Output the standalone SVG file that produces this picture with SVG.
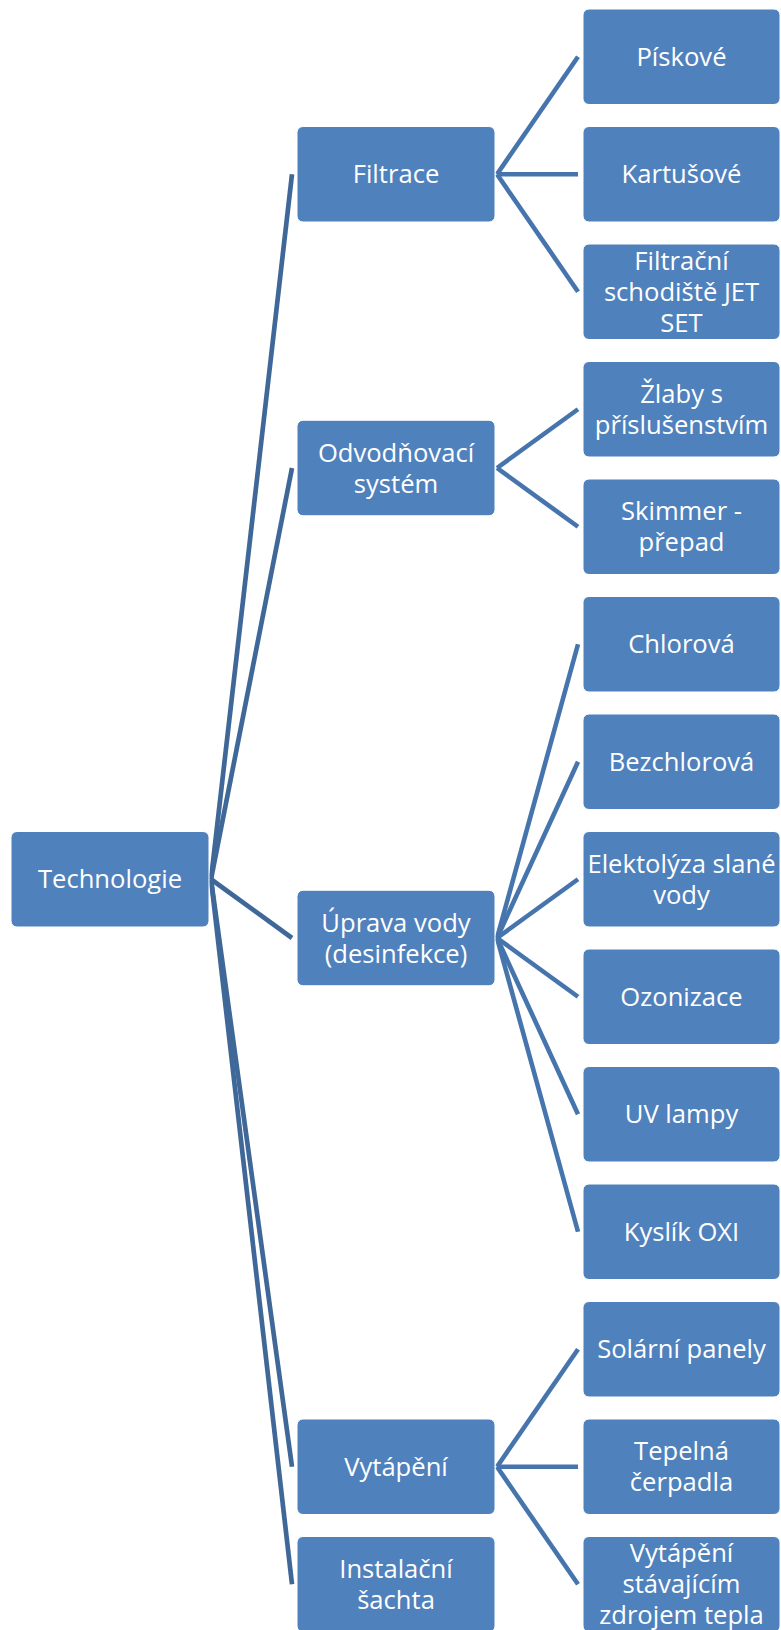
<svg xmlns="http://www.w3.org/2000/svg" width="781" height="1630" viewBox="0 0 781 1630">
<style>
.box{fill:#4F81BD;stroke:#ffffff;stroke-width:1}
.t{font-family:"Open Sans","Liberation Sans",sans-serif;font-size:25.6px;fill:#ffffff;text-anchor:middle}
.c1{stroke:#3F6898;stroke-width:4.7;fill:none}
.c2{stroke:#4674AC;stroke-width:4.6;fill:none}
</style>
<rect width="781" height="1630" fill="#ffffff"/>
<g id="connectors">
<line class="c1" x1="211" y1="879.25" x2="292" y2="174.25"/>
<line class="c1" x1="211" y1="879.25" x2="292" y2="468"/>
<line class="c1" x1="211" y1="879.25" x2="292" y2="938"/>
<line class="c1" x1="211" y1="879.25" x2="292" y2="1466.75"/>
<line class="c1" x1="211" y1="879.25" x2="292" y2="1584.25"/>
<line class="c2" x1="497" y1="174.25" x2="578" y2="56.75"/>
<line class="c2" x1="497" y1="174.25" x2="578" y2="174.25"/>
<line class="c2" x1="497" y1="174.25" x2="578" y2="291.75"/>
<line class="c2" x1="497" y1="468" x2="578" y2="409.25"/>
<line class="c2" x1="497" y1="468" x2="578" y2="526.75"/>
<line class="c2" x1="497" y1="938" x2="578" y2="644.25"/>
<line class="c2" x1="497" y1="938" x2="578" y2="761.75"/>
<line class="c2" x1="497" y1="938" x2="578" y2="879.25"/>
<line class="c2" x1="497" y1="938" x2="578" y2="996.75"/>
<line class="c2" x1="497" y1="938" x2="578" y2="1114.25"/>
<line class="c2" x1="497" y1="938" x2="578" y2="1231.75"/>
<line class="c2" x1="497" y1="1466.75" x2="578" y2="1349.25"/>
<line class="c2" x1="497" y1="1466.75" x2="578" y2="1466.75"/>
<line class="c2" x1="497" y1="1466.75" x2="578" y2="1584.25"/>
</g>
<g id="n-technologie"><rect class="box" x="11" y="831.5" width="198" height="95.5" rx="6"/><text class="t" x="110" y="888.25">Technologie</text></g>
<g id="n-filtrace"><rect class="box" x="297" y="126.5" width="198" height="95.5" rx="6"/><text class="t" x="396" y="183.25">Filtrace</text></g>
<g id="n-odvodnovaci"><rect class="box" x="297" y="420.25" width="198" height="95.5" rx="6"/><text class="t" x="396" y="461.5">Odvodňovací</text><text class="t" x="396" y="492.5">systém</text></g>
<g id="n-uprava"><rect class="box" x="297" y="890.25" width="198" height="95.5" rx="6"/><text class="t" x="396" y="931.5">Úprava vody</text><text class="t" x="396" y="962.5">(desinfekce)</text></g>
<g id="n-vytapeni"><rect class="box" x="297" y="1419" width="198" height="95.5" rx="6"/><text class="t" x="396" y="1475.75">Vytápění</text></g>
<g id="n-instalacni"><rect class="box" x="297" y="1536.5" width="198" height="95.5" rx="6"/><text class="t" x="396" y="1577.75">Instalační</text><text class="t" x="396" y="1608.75">šachta</text></g>
<g id="n-piskove"><rect class="box" x="583" y="9" width="197" height="95.5" rx="6"/><text class="t" x="681.5" y="65.75">Pískové</text></g>
<g id="n-kartusove"><rect class="box" x="583" y="126.5" width="197" height="95.5" rx="6"/><text class="t" x="681.5" y="183.25">Kartušové</text></g>
<g id="n-filtracni-schodiste"><rect class="box" x="583" y="244" width="197" height="95.5" rx="6"/><text class="t" x="681.5" y="269.75">Filtrační</text><text class="t" x="681.5" y="300.75">schodiště JET</text><text class="t" x="681.5" y="331.75">SET</text></g>
<g id="n-zlaby"><rect class="box" x="583" y="361.5" width="197" height="95.5" rx="6"/><text class="t" x="681.5" y="402.75">Žlaby s</text><text class="t" x="681.5" y="433.75">příslušenstvím</text></g>
<g id="n-skimmer"><rect class="box" x="583" y="479" width="197" height="95.5" rx="6"/><text class="t" x="681.5" y="520.25">Skimmer -</text><text class="t" x="681.5" y="551.25">přepad</text></g>
<g id="n-chlorova"><rect class="box" x="583" y="596.5" width="197" height="95.5" rx="6"/><text class="t" x="681.5" y="653.25">Chlorová</text></g>
<g id="n-bezchlorova"><rect class="box" x="583" y="714" width="197" height="95.5" rx="6"/><text class="t" x="681.5" y="770.75">Bezchlorová</text></g>
<g id="n-elektolyza"><rect class="box" x="583" y="831.5" width="197" height="95.5" rx="6"/><text class="t" x="681.5" y="872.75">Elektolýza slané</text><text class="t" x="681.5" y="903.75">vody</text></g>
<g id="n-ozonizace"><rect class="box" x="583" y="949" width="197" height="95.5" rx="6"/><text class="t" x="681.5" y="1005.75">Ozonizace</text></g>
<g id="n-uv"><rect class="box" x="583" y="1066.5" width="197" height="95.5" rx="6"/><text class="t" x="681.5" y="1123.25">UV lampy</text></g>
<g id="n-kyslik"><rect class="box" x="583" y="1184" width="197" height="95.5" rx="6"/><text class="t" x="681.5" y="1240.75">Kyslík OXI</text></g>
<g id="n-solarni"><rect class="box" x="583" y="1301.5" width="197" height="95.5" rx="6"/><text class="t" x="681.5" y="1358.25">Solární panely</text></g>
<g id="n-tepelna"><rect class="box" x="583" y="1419" width="197" height="95.5" rx="6"/><text class="t" x="681.5" y="1460.25">Tepelná</text><text class="t" x="681.5" y="1491.25">čerpadla</text></g>
<g id="n-vytapeni-stavajicim"><rect class="box" x="583" y="1536.5" width="197" height="95.5" rx="6"/><text class="t" x="681.5" y="1562.25">Vytápění</text><text class="t" x="681.5" y="1593.25">stávajícím</text><text class="t" x="681.5" y="1624.25">zdrojem tepla</text></g>
</svg>
